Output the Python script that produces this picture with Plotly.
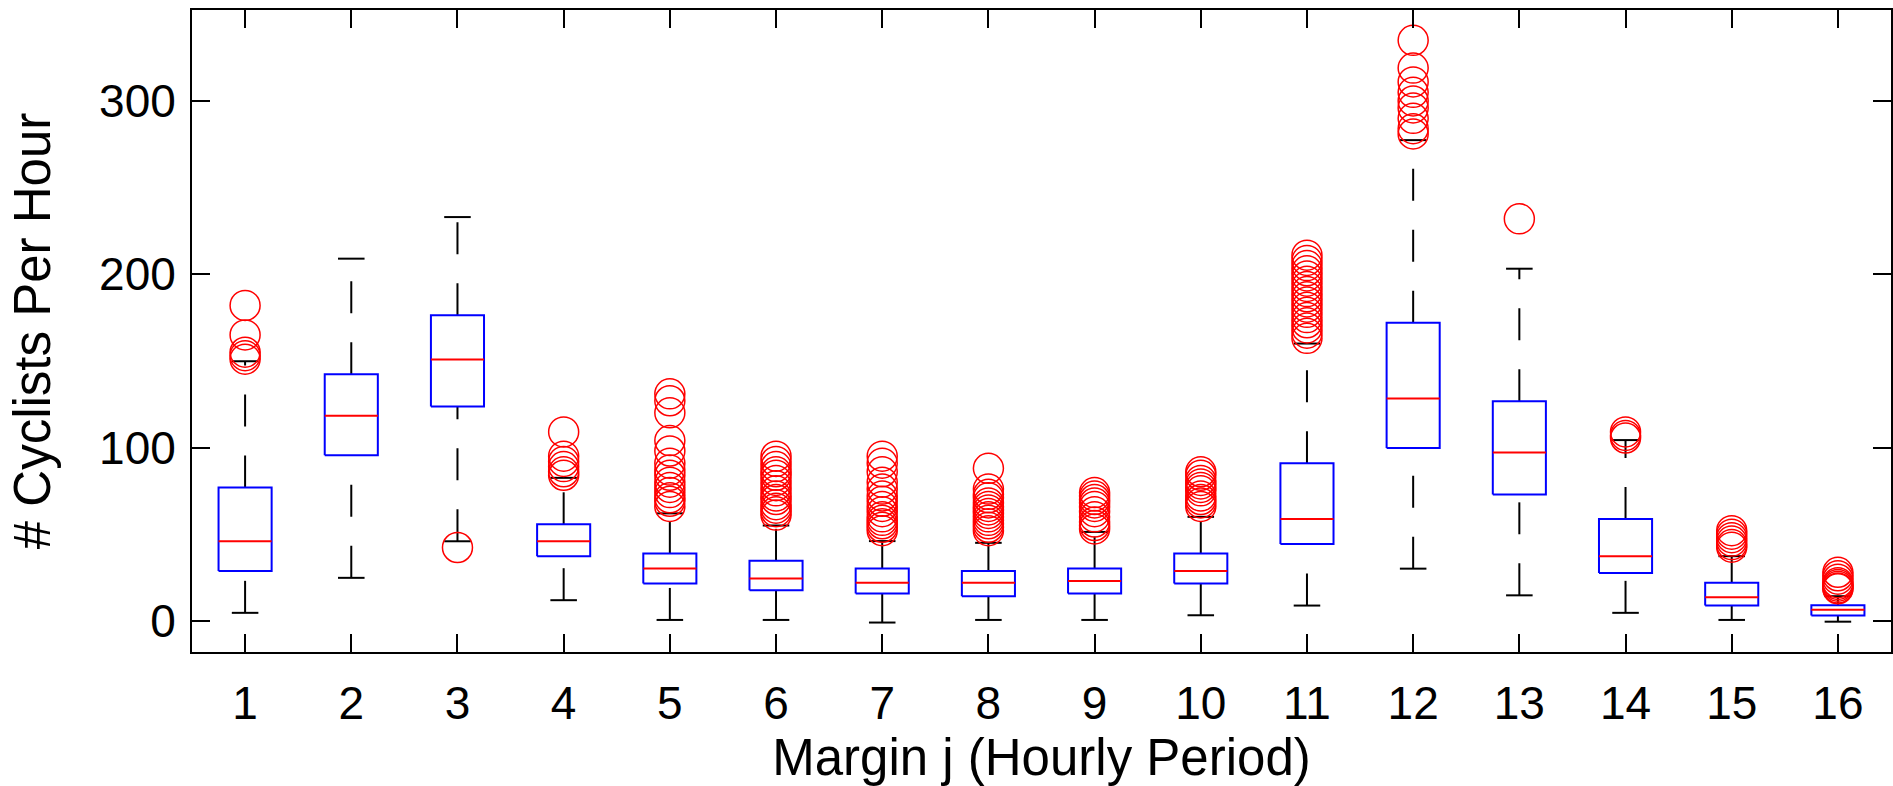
import plotly.graph_objects as go

# ---------------- data ----------------
hours = list(range(1, 17))
tick_labels = [str(h) for h in hours]

q1 = [28.8, 95.5, 123.7, 37.3, 21.5, 17.7, 15.7, 14.2, 15.7, 21.5, 44.3, 99.7, 72.9, 27.6, 8.8, 3.1]
medians = [45.9, 118.3, 150.8, 45.9, 30.2, 24.4, 21.9, 21.9, 23.0, 28.8, 58.7, 128.3, 97.1, 37.3, 13.6, 6.4]
q3 = [77.0, 142.3, 176.3, 55.7, 38.8, 34.6, 30.2, 28.8, 30.2, 38.8, 90.9, 172.0, 126.7, 58.7, 21.9, 9.0]
whisker_low = [4.6, 24.8, 45.9, 11.9, 0.5, 0.5, -1.0, 0.5, 0.5, 3.2, 8.8, 30.1, 14.7, 4.6, 0.5, -0.5]
whisker_high = [149.8, 209.0, 233.0, 82.5, 62.0, 55.0, 46.0, 45.0, 51.3, 60.0, 160.0, 277.4, 203.2, 104.3, 37.3, 14.2]

outliers = [
    [182, 165, 155, 153, 151],
    [],
    [42.3],
    [109, 95, 92, 89, 86, 84],
    [131, 127, 120, 104, 98, 91, 87, 84, 80, 77, 74, 71, 69, 66],
    [95, 92, 89, 86, 84, 81, 78, 75, 72, 70, 67, 65, 63, 61],
    [95, 91, 86, 80, 76, 72, 69, 66, 63, 60, 58, 56, 54, 52],
    [88, 76, 73, 71, 68, 66, 64, 62, 60, 58, 56, 54, 52],
    [74, 72, 70, 68, 66, 63, 60, 57, 55, 53],
    [86, 84, 81, 79, 77, 75, 72, 70, 68, 66],
    [211, 208, 205, 202, 199, 196, 193, 190, 187, 184, 181, 178, 175, 172, 169, 166, 163],
    [335, 319, 311, 305, 300, 296, 290, 284, 281],
    [232],
    [109, 107, 105.5],
    [52, 50, 48, 46, 44, 42.5],
    [28, 26, 24, 22, 21, 20, 19, 18.5],
]

y_ticks = [0, 100, 200, 300]

# ---------------- style ----------------
BOX_HALF = 0.25
CAP_HALF = 0.125
FONT = "Liberation Sans, Arial, Helvetica, sans-serif"
BLUE = "#0000FF"
RED = "#FF0000"

fig = go.Figure()

for i, h in enumerate(hours):
    # upper whisker (dashed, from box top upward)
    fig.add_trace(go.Scatter(
        x=[h, h], y=[q3[i], whisker_high[i]], mode="lines",
        line=dict(color="black", width=2, dash="32px,29px"), hoverinfo="skip"))
    # lower whisker (dashed, from cap upward to box bottom)
    fig.add_trace(go.Scatter(
        x=[h, h], y=[whisker_low[i], q1[i]], mode="lines",
        line=dict(color="black", width=2, dash="32px,29px"), hoverinfo="skip"))
    # whisker caps
    fig.add_trace(go.Scatter(
        x=[h - CAP_HALF, h + CAP_HALF, None, h - CAP_HALF, h + CAP_HALF],
        y=[whisker_low[i], whisker_low[i], None, whisker_high[i], whisker_high[i]],
        mode="lines", line=dict(color="black", width=2), hoverinfo="skip"))
    # box
    fig.add_trace(go.Scatter(
        x=[h - BOX_HALF, h + BOX_HALF, h + BOX_HALF, h - BOX_HALF, h - BOX_HALF],
        y=[q1[i], q1[i], q3[i], q3[i], q1[i]],
        mode="lines", line=dict(color=BLUE, width=2), hoverinfo="skip"))
    # median
    fig.add_trace(go.Scatter(
        x=[h - BOX_HALF, h + BOX_HALF], y=[medians[i], medians[i]],
        mode="lines", line=dict(color=RED, width=2), hoverinfo="skip"))

ox, oy = [], []
for h, vals in zip(hours, outliers):
    for v in vals:
        ox.append(h)
        oy.append(v)
fig.add_trace(go.Scatter(
    x=ox, y=oy, mode="markers",
    marker=dict(symbol="circle-open", size=30, color=RED, line=dict(width=1.5)),
    hoverinfo="skip"))

axis_common = dict(
    ticks="inside", ticklen=18, tickwidth=2, tickcolor="black",
    showline=True, linecolor="black", linewidth=2, mirror="ticks",
    showgrid=False, zeroline=False, automargin=False,
    tickfont=dict(family=FONT, size=46, color="black"),
)

fig.update_layout(
    width=1893, height=786,
    margin=dict(l=192, r=2, t=10, b=134),
    paper_bgcolor="white", plot_bgcolor="white",
    showlegend=False,
    font=dict(family=FONT, color="black"),
    xaxis=dict(
        range=[0.5, 16.5], tickmode="array", tickvals=hours, ticktext=tick_labels,
        ticklabelstandoff=10,
        title=dict(text="Margin j (Hourly Period)", font=dict(family=FONT, size=51, color="black"),
                   standoff=6),
        **axis_common),
    yaxis=dict(
        range=[-18, 352.5], tickmode="array", tickvals=y_ticks,
        ticktext=[str(v) for v in y_ticks],
        ticklabelstandoff=5,
        title=dict(text="# Cyclists Per Hour", font=dict(family=FONT, size=51, color="black"),
                   standoff=32),
        **axis_common),
)

fig.write_html("out.html")
